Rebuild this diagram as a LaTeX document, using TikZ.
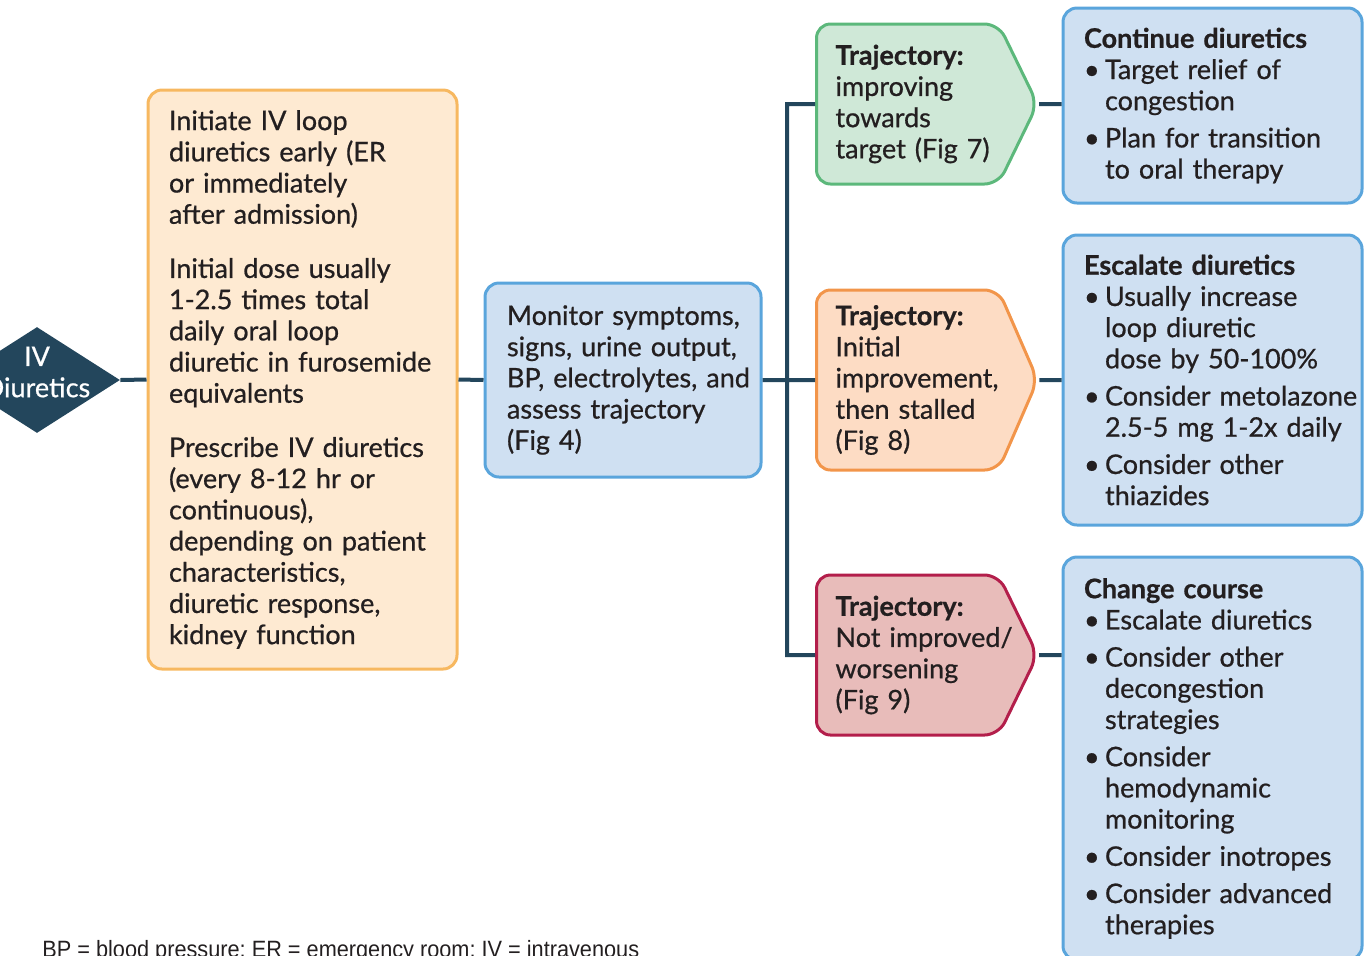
\documentclass[tikz,border=0pt]{standalone}
\usepackage{fontspec}
\setmainfont{Lato}[FakeBold=0.7]
\newfontfamily\notefont{Liberation Sans}[FakeStretch=0.92]
\usetikzlibrary{shapes.geometric,shapes.symbols}

\definecolor{ink}{HTML}{231F20}
\definecolor{navy}{HTML}{23465C}
\definecolor{initfill}{HTML}{FEEAD2}
\definecolor{initline}{HTML}{F7B860}
\definecolor{bluefill}{HTML}{CFE0F2}
\definecolor{blueline}{HTML}{5AA5DC}
\definecolor{greenfill}{HTML}{CFE8D7}
\definecolor{greenline}{HTML}{5CB87B}
\definecolor{orangefill}{HTML}{FDDCC4}
\definecolor{orangeline}{HTML}{F2954A}
\definecolor{redfill}{HTML}{E8BCBA}
\definecolor{redline}{HTML}{B31E4B}

\newcommand{\blt}{\makebox[10.5pt][l]{\textbullet}}
\newcommand{\ind}{\hspace*{10.5pt}}
\hyphenpenalty=10000
\exhyphenpenalty=10000

\begin{document}
\begin{tikzpicture}[x=0.5pt,y=-0.5pt,
    every node/.style={font=\fontsize{13.5}{15.6}\selectfont,text=ink},
    box/.style={draw,rounded corners=7pt,line width=1.5pt,align=left,inner xsep=10.5pt,inner ysep=0pt},
    action/.style={box,fill=bluefill,draw=blueline,minimum width=149.5pt,text width=128.5pt},
    traj/.style={shape=signal,signal to=east,signal from=nowhere,rounded corners=7pt,
        line width=1.5pt,align=left,text width=72pt,inner xsep=9.5pt,anchor=west},
    link/.style={draw=navy,line width=2pt}]

    \useasboundingbox (0,0) rectangle (1364,955);

    \node[diamond,fill=navy,aspect=1.57,minimum width=83pt,minimum height=53pt,inner sep=0pt] (iv) at (37,380) {};
    \node[text=white,align=center] (ivtext) at (37,372) {IV\\Diuretics};

    \node[box,fill=initfill,draw=initline,minimum width=154.5pt,minimum height=289.5pt,text width=133.5pt] (init) at (302.5,379.5)
        {Initiate IV loop\\ diuretics early (ER\\ or immediately\\ after admission)\\[11.5pt]
         Initial dose usually\\ 1-2.5 times total\\ daily oral loop\\ diuretic~in~furosemide\\ equivalents\\[11.5pt]
         Prescribe~IV~diuretics\\ (every 8-12 hr or\\ continuous),\\ depending~on~patient\\ characteristics,\\ diuretic response,\\ kidney function};

    \node[box,fill=bluefill,draw=blueline,minimum width=138pt,minimum height=97pt,text width=116pt,inner xsep=11pt] (monitor) at (623,380)
        {Monitor~symptoms,\\ signs,~urine~output,\\ BP,~electrolytes,~and\\ assess~trajectory\\ (Fig 4)};

    \coordinate (split) at (787,380);

    % trajectories
    \node[traj,fill=greenfill,draw=greenline,minimum height=80pt,signal pointer angle=128] (improving) at (815,104)
        {\textbf{Trajectory:}\\ improving\\ towards\\ \mbox{target (Fig 7)}};
    \node[traj,fill=orangefill,draw=orangeline,minimum height=90pt,signal pointer angle=133] (stalled) at (815,380)
        {\textbf{Trajectory:}\\ Initial\\ improvement,\\ \mbox{then stalled}\\ (Fig 8)};
    \node[traj,fill=redfill,draw=redline,minimum height=80pt,signal pointer angle=128] (worsening) at (815,655)
        {\textbf{Trajectory:}\\ \mbox{Not improved/}\\ worsening\\ (Fig 9)};

    % actions
    \node[action,minimum height=97.5pt] (continue) at (1212.5,105.5)
        {\textbf{Continue diuretics}\\ \blt Target relief of\\ \ind congestion\\[3pt]
         \blt \mbox{Plan for transition}\\ \ind to oral therapy};
    \node[action,minimum height=145pt] (escalate) at (1212.5,380)
        {\textbf{Escalate diuretics}\\ \blt Usually increase\\ \ind loop diuretic\\ \ind dose by 50-100\%\\[3pt]
         \blt \mbox{Consider metolazone}\\ \ind \mbox{2.5-5 mg 1-2x daily}\\[3pt]
         \blt Consider other\\ \ind thiazides};
    \node[action,minimum height=201.5pt] (change) at (1212.5,758.5)
        {\textbf{Change course}\\ \blt \mbox{Escalate diuretics}\\[3pt]
         \blt Consider other\\ \ind decongestion\\ \ind strategies\\[3pt]
         \blt Consider\\ \ind hemodynamic\\ \ind monitoring\\[3pt]
         \blt \mbox{Consider inotropes}\\[3pt]
         \blt \mbox{Consider advanced}\\ \ind therapies};

    \path[link] (iv.east) -- (init.west)
                (init.east) -- (monitor.west)
                (monitor.east) -- (stalled.west)
                (improving.west) -| (split) |- (worsening.west)
                (improving.east) -- (improving.east -| continue.west)
                (stalled.east) -- (stalled.east -| escalate.west)
                (worsening.east) -- (worsening.east -| change.west);

    \node[font=\notefont\fontsize{11.8}{13}\selectfont,anchor=base west,inner sep=0pt] (note) at (42,957)
        {BP = blood pressure; ER = emergency room; IV = intravenous};
\end{tikzpicture}
\end{document}
